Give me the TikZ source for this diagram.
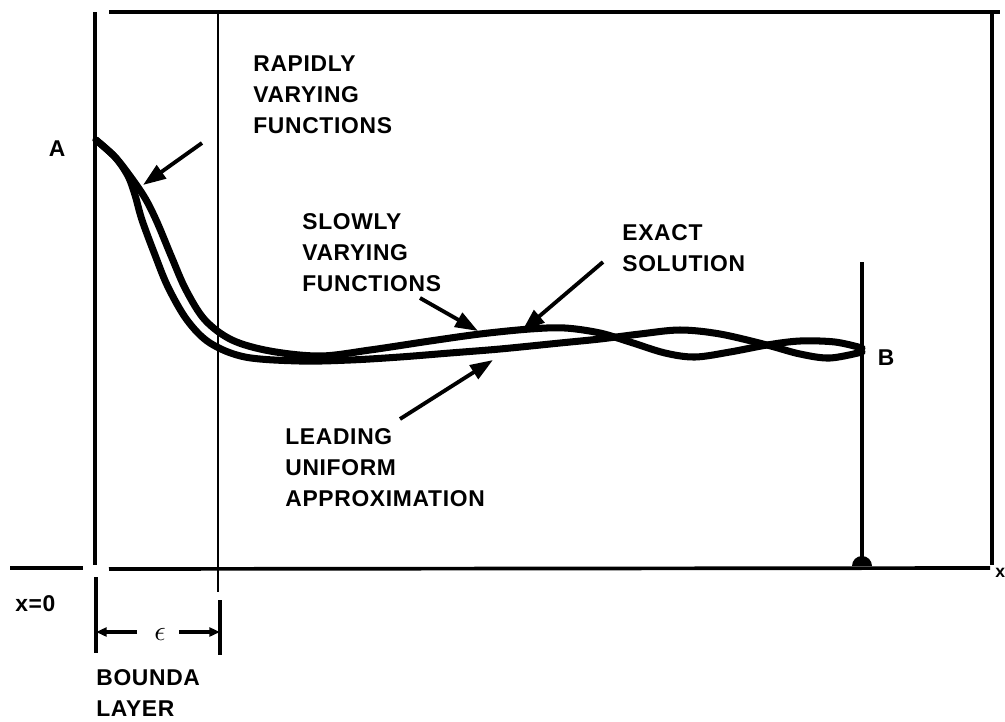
\documentclass[tikz,border=0pt]{standalone}
\usepackage{fontspec}
\setmainfont{Liberation Sans}
\newfontfamily\lblfont{Liberation Sans}[LetterSpace=3]
\usetikzlibrary{arrows.meta}

\begin{document}
\begin{tikzpicture}[x=0.02cm, y=-0.02cm,
	frame/.style={line width=2.1pt},
	curve/.style={line width=4pt, line join=round, line cap=round},
	pointer/.style={line width=2.2pt, -{Triangle[length=13pt, width=9pt]}},
	dimline/.style={line width=2pt, -{Triangle[length=6pt, width=5pt]}},
	lbl/.style={font={\lblfont\bfseries\fontsize{13}{17.8}\selectfont}, align=left, anchor=north west, inner sep=0pt},
	]
	\useasboundingbox (0,0) rectangle (1005,721);
	%Nodes
	\node[lbl]	(rapid)		at	(253,55)	{RAPIDLY\\VARYING\\FUNCTIONS};
	\node[lbl]	(slow)		at	(302,213)	{SLOWLY\\VARYING\\FUNCTIONS};
	\node[lbl]	(exact)		at	(622,224)	{EXACT\\SOLUTION};
	\node[lbl]	(leading)	at	(285,428)	{LEADING\\UNIFORM\\APPROXIMATION};
	\node[lbl]	(layer)		at	(96,669)	{BOUNDA\\LAYER};
	\node[lbl]	(xzero)		at	(15,595)	{x=0};
	\node[lbl, anchor=center]	(ptA)	at	(57,149)	{A};
	\node[lbl, anchor=center]	(ptB)	at	(886,358)	{B};
	\node[lbl, anchor=west, font={\lblfont\bfseries\fontsize{10}{10}\selectfont}]	(xaxis)	at	(995,573)	{x};
	\node[inner sep=1pt]	(eps)	at	(160,634)	{\scalebox{1.6}{$\epsilon$}};
	
	%Frame
	\coordinate (tl) at (95,12);
	\coordinate (bl) at (95,565);
	\draw[frame] (tl) -- (bl);
	\draw[frame] (109,12) -- (1000,12);
	\draw[frame] (992,12) -- (992,565);
	\draw[frame] (10,568) -- (83,568);
	\draw[frame] (109,569) -- (990,568);
	\draw[line width=1.7pt] (218,12) -- (218,592);
	\draw[frame] (862,262) -- (862,562);
	\fill (852,566) arc[start angle=180, end angle=360, radius=10] -- cycle;
	
	%Boundary layer width
	\coordinate (e0) at (96,632);
	\coordinate (e1) at (220,632);
	\coordinate (e0s) at (137,632);
	\coordinate (e1s) at (179,632);
	\draw[frame] (96,577) -- (96,653);
	\draw[frame] (220,600) -- (220,655);
	\draw[dimline] (e0s) -- (e0);
	\draw[dimline] (e1s) -- (e1);
	
	%Curves
	\draw[curve] plot[smooth, tension=0.55] coordinates {(96,140) (115,157) (130,176) (145,198) (157,222) (172,258) (186,290) (205,320) (232,340) (270,351) (320,356) (370,350) (430,341) (480,334) (530,329) (565,328) (600,333) (630,342) (665,353) (695,357) (730,352) (767,345) (800,341) (835,342) (862,348)};
	\draw[curve] plot[smooth, tension=0.55] coordinates {(96,140) (115,157) (128,176) (135,195) (142,220) (155,255) (168,287) (187,320) (210,343) (245,357) (300,361) (350,360) (400,357) (450,353) (500,349) (560,343) (600,339) (640,334) (680,330) (720,334) (767,345) (800,354) (830,358) (862,352)};
	
	%Pointers
	\coordinate (rapidtip) at (143,185);
	\coordinate (slowtip) at (478,331);
	\coordinate (exacttip) at (522,331);
	\coordinate (leadtip) at (493,360);
	\draw[pointer] (202,143) -- (rapidtip);
	\draw[pointer] (420,298) -- (slowtip);
	\draw[pointer] (603,262) -- (exacttip);
	\draw[pointer] (400,419) -- (leadtip);
\end{tikzpicture}
\end{document}
